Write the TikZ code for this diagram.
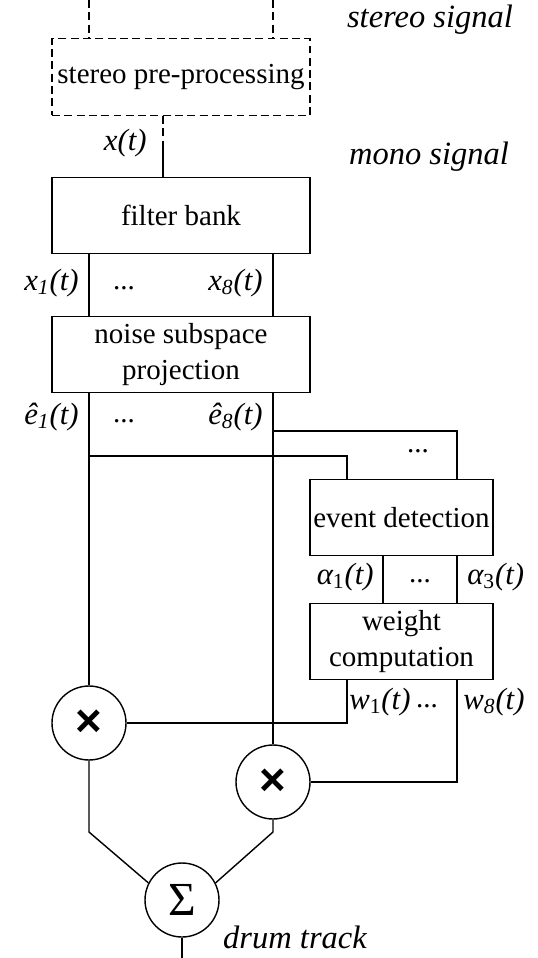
\documentclass[tikz,border=0pt]{standalone}
\usepackage{fontspec}
\setmainfont{Liberation Serif}
\newfontfamily\opfont{Liberation Sans}
\usetikzlibrary{calc}
\tikzset{
	blk/.style={draw, line width=0.8pt, minimum width=5.16cm, minimum height=1.53cm, align=center, inner sep=0pt},
	dblk/.style={blk, dash pattern=on 4.5pt off 2.5pt},
	sblk/.style={blk, minimum width=3.66cm},
	opnode/.style={draw, circle, line width=0.8pt, minimum size=1.48cm, inner sep=0pt},
	sigcap/.style={font=\fontsize{18.5}{21}\selectfont\itshape, inner sep=0pt},
	lbl/.style={font=\fontsize{17.5}{20}\selectfont\itshape, inner sep=0pt},
	dts/.style={font=\fontsize{16.5}{19}\selectfont, inner sep=0pt},
	wire/.style={line width=0.8pt},
}

\begin{document}
\begin{tikzpicture}[x=0.02cm, y=-0.02cm, font=\fontsize{16.5}{20}\selectfont]
			%%%%% START %%%%%
			\useasboundingbox (0, 0) rectangle (538, 958);
			
			% blocks
			\node[dblk] (pre) at (181, 77) {stereo pre-processing};
			\node[blk] (fb) at (181, 215.5) {filter bank};
			\node[blk] (nsp) at (181, 354.5) {noise subspace\\projection};
			\node[sblk] (ed) at (401.5, 517.5) {event detection};
			\node[sblk] (wc) at (401.5, 641.5) {weight\\computation};
			
			% operators
			\node[opnode, font=\opfont\bfseries\fontsize{26}{26}\selectfont] (m1) at (89, 723) {×};
			\node[opnode, font=\opfont\bfseries\fontsize{26}{26}\selectfont] (m2) at (273, 782) {×};
			\node[opnode, font=\fontsize{27}{27}\selectfont] (sum) at (182, 900) {Σ};
			
			% helper points
			\coordinate (inL) at (89, 0);
			\coordinate (inR) at (273, 0);
			\coordinate (mono) at (163, 147);
			\coordinate (eL) at (347, 456);
			\coordinate (eR) at (457, 431);
			\coordinate (aL) at (383, 580);
			\coordinate (jn) at (0, 832);
			\coordinate (out) at (182, 958);
			
			% stereo part
			\draw[wire, dash pattern=on 4.5pt off 2.5pt] (inL) -- (inL |- pre.north);
			\draw[wire, dash pattern=on 4.5pt off 2.5pt] (inR) -- (inR |- pre.north);
			\draw[wire, dash pattern=on 4.5pt off 2.5pt] (pre.south -| mono) -- (mono);
			\draw[wire] (mono) -- (mono |- fb.north);
			
			% subbands
			\draw[wire] (fb.south -| m1) -- (nsp.north -| m1);
			\draw[wire] (fb.south -| m2) -- (nsp.north -| m2);
			\draw[wire] (nsp.south -| m1) -- (m1.north);
			\draw[wire] (nsp.south -| m2) -- (m2.north);
			
			% side chain
			\draw[wire] (m1 |- eL) -- (eL) -- (eL |- ed.north);
			\draw[wire] (m2 |- eR) -- (eR) -- (eR |- ed.north);
			\draw[wire] (ed.south -| aL) -- (wc.north -| aL);
			\draw[wire] (ed.south -| eR) -- (wc.north -| eR);
			\draw[wire] (wc.south -| eL) |- (m1.east);
			\draw[wire] (wc.south -| eR) |- (m2.east);
			
			% sum
			\draw[wire] (m1.south) -- (m1 |- jn) -- (sum.153);
			\draw[wire] (m2.south) -- (m2 |- jn) -- (sum.27);
			\draw[wire] (sum.south) -- (out);
			
			% labels
			\node[sigcap] (lst) at (430, 20) {stereo signal};
			\node[sigcap] (lmo) at (429, 157) {mono signal};
			\node[sigcap] (ldr) at (295, 937) {drum track};
			\node[lbl, anchor=east] (lx) at (147, 143) {x(t)};
			\node[lbl, anchor=east] (lx1) at (79, 283) {x\textsubscript{1}(t)};
			\node[dts] (dx) at (124, 288) {...};
			\node[lbl, anchor=east] (lx8) at (263, 283) {x\textsubscript{8}(t)};
			\node[lbl, anchor=east] (le1) at (79, 417) {\^e\textsubscript{1}(t)};
			\node[dts] (de) at (124, 421) {...};
			\node[lbl, anchor=east] (le8) at (263, 417) {\^e\textsubscript{8}(t)};
			\node[dts] (dbr) at (418, 451) {...};
			\node[lbl, anchor=east] (la1) at (374, 577) {α\textsubscript{\upshape 1}(t)};
			\node[dts] (da) at (420, 581) {...};
			\node[lbl, anchor=west] (la3) at (467, 577) {α\textsubscript{\upshape 3}(t)};
			\node[lbl, anchor=west] (lw1) at (349, 702) {w\textsubscript{\upshape 1}(t)};
			\node[dts] (dw) at (427, 706) {...};
			\node[lbl, anchor=west] (lw8) at (463, 702) {w\textsubscript{8}(t)};
			%%%%% END %%%%%
\end{tikzpicture}
\end{document}
